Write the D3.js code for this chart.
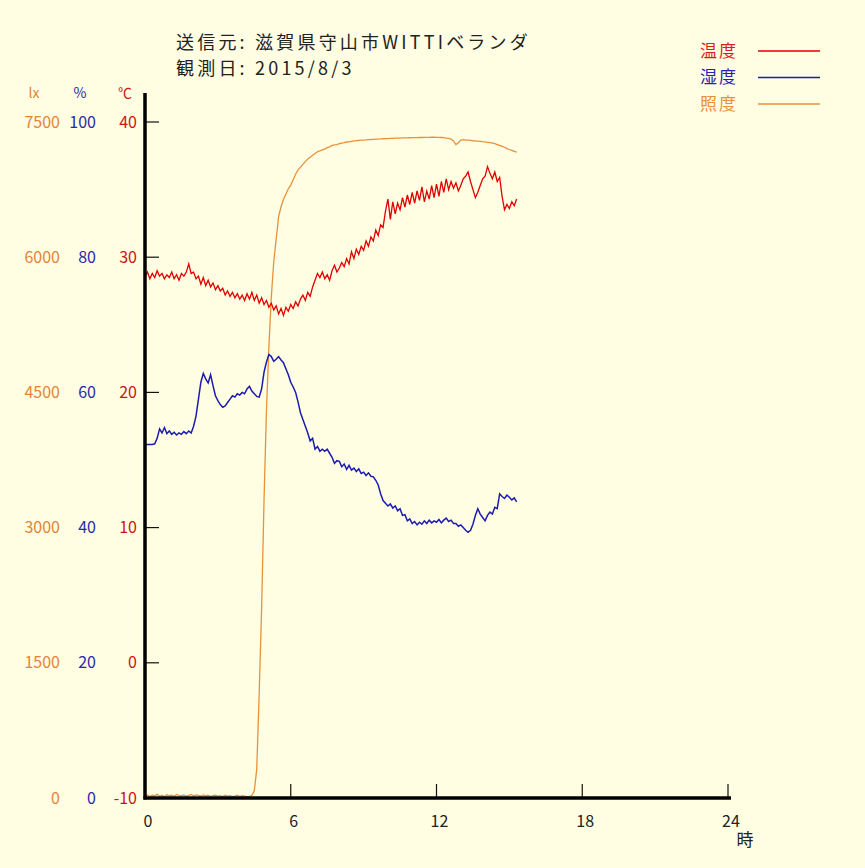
<!DOCTYPE html>
<html>
<head>
<meta charset="utf-8">
<script src="https://cdn.jsdelivr.net/npm/d3@7"></script>
<style>
  html, body { margin: 0; padding: 0; background: #fffde2; }
  svg { display: block; }
  text { font-family: "Noto Sans CJK JP", "DejaVu Sans", sans-serif; }
</style>
</head>
<body>
<svg id="chart" width="865" height="868"></svg>
<script>
// samples every 0.1 h starting at 0:00
const STEP_H = 0.1;

const TEMP = [
  28.6, 28.9, 28.4, 28.8, 28.5, 29.0, 28.6, 28.8, 28.4, 28.7,
  28.5, 28.9, 28.4, 28.7, 28.3, 28.8, 28.6, 28.9, 29.5, 28.8,
  28.9, 28.4, 28.6, 28.0, 28.5, 27.9, 28.3, 27.8, 28.1, 27.6,
  27.9, 27.5, 27.7, 27.2, 27.5, 27.1, 27.4, 27.0, 27.3, 26.9,
  27.2, 26.8, 27.3, 26.9, 27.4, 26.8, 27.2, 26.6, 27.0, 26.5,
  26.8, 26.3, 26.6, 26.1, 26.4, 25.8, 26.2, 25.7, 26.3, 26.0,
  26.5, 26.2, 26.7, 26.4, 26.9, 27.2, 26.8, 27.4, 27.1, 27.8,
  28.3, 28.8, 28.5, 28.9, 28.4, 28.7, 28.3, 29.0, 29.4, 28.9,
  29.2, 29.6, 29.3, 29.9, 29.5, 30.4, 29.9, 30.6, 30.2, 30.8,
  30.5, 31.2, 30.8, 31.5, 31.2, 32.0, 31.6, 32.4, 32.2, 33.4,
  34.3, 32.8, 34.1, 33.2, 34.0, 33.5, 34.4, 33.7, 34.6, 33.9,
  34.8, 34.0, 34.9, 34.2, 35.2, 34.1, 34.9, 34.3, 35.3, 34.4,
  35.4, 34.5, 35.6, 34.8, 35.8, 35.0, 35.6, 35.1, 35.5, 34.9,
  35.3, 35.8, 36.0, 36.3, 35.6, 35.0, 34.4, 34.8, 35.3, 35.8,
  36.0, 36.7, 36.2, 35.8, 36.3, 35.6, 35.9, 34.5, 33.5, 33.9,
  33.6, 34.1, 33.8, 34.3
];

const HUMID = [
  52.3, 52.3, 52.3, 52.3, 52.4, 53.2, 54.6, 54.0, 54.8, 53.9,
  54.3, 53.8, 54.1, 53.7, 54.0, 53.8, 54.2, 53.9, 54.3, 54.0,
  55.0, 56.5, 59.0, 61.5, 62.8, 62.0, 61.4, 62.6, 61.0, 59.5,
  58.8, 58.2, 57.8, 58.0, 58.5, 59.0, 59.5, 59.3, 59.8, 59.6,
  60.0, 59.8, 60.5, 60.9, 60.2, 59.8, 59.4, 59.3, 60.5, 63.0,
  64.5, 65.6, 65.3, 64.6, 64.9, 65.3, 64.8, 64.4, 63.5, 62.6,
  61.5, 60.8, 60.0, 58.6, 57.0, 56.0, 55.0, 54.0, 52.8, 53.2,
  51.6, 52.0, 51.3, 51.6, 51.3, 51.6, 51.0, 50.4, 49.5, 49.9,
  49.8, 49.0, 49.4, 48.6, 49.2, 48.5, 48.8, 48.3, 48.7, 48.0,
  48.2, 47.7, 48.1, 47.6, 47.5, 47.0, 46.3, 45.0, 44.0, 43.6,
  43.2, 43.5, 42.9, 43.2, 42.5, 42.8, 41.8, 41.9, 41.0, 41.3,
  40.6, 40.9, 40.4, 40.8, 40.5, 41.0, 40.6, 41.1, 40.7, 41.0,
  40.8, 41.2, 40.7, 41.1, 41.4, 40.9, 41.1, 40.6, 40.6, 40.2,
  40.4, 40.0, 39.6, 39.3, 39.6, 40.5, 41.8, 42.8, 42.0, 41.5,
  41.0, 41.8, 42.3, 42.0, 43.0, 42.8, 45.0, 44.6, 44.3, 44.8,
  44.5, 44.1, 44.4, 43.8
];

const LUX = [
  20, 35, 15, 30, 25, 40, 20, 30, 15, 35,
  25, 30, 20, 40, 30, 25, 35, 20, 30, 40,
  25, 35, 30, 20, 35, 25, 30, 15, 25, 30,
  20, 25, 15, 30, 20, 25, 15, 20, 30, 15,
  25, 20, 15, 15, 30, 80, 320, 1150, 2100, 3300,
  4300, 5000, 5560, 5950, 6200, 6450, 6560, 6640, 6700, 6760,
  6800, 6860, 6920, 6970, 7000, 7030, 7060, 7090, 7110, 7130,
  7150, 7170, 7180, 7190, 7200, 7215, 7225, 7240, 7245, 7250,
  7260, 7265, 7270, 7278, 7280, 7285, 7290, 7292, 7295, 7298,
  7300, 7302, 7305, 7306, 7308, 7310, 7311, 7312, 7314, 7315,
  7316, 7318, 7318, 7320, 7320, 7322, 7323, 7324, 7324, 7325,
  7326, 7327, 7327, 7328, 7328, 7330, 7330, 7330, 7331, 7331,
  7330, 7330, 7328, 7326, 7322, 7318, 7310, 7290, 7250, 7270,
  7300, 7305, 7300, 7298, 7295, 7292, 7290, 7288, 7285, 7282,
  7280, 7275, 7270, 7265, 7260, 7250, 7240, 7230, 7220, 7205,
  7195, 7185, 7175, 7165
];

const LUX_TICKS  = [0, 1500, 3000, 4500, 6000, 7500];
const HUMID_TICKS = [0, 20, 40, 60, 80, 100];
const TEMP_TICKS = [-10, 0, 10, 20, 30, 40];
const HOUR_TICKS = [0, 6, 12, 18, 24];

const TITLE_LINES = ["送信元: 滋賀県守山市WITTIベランダ", "観測日: 2015/8/3"];
const LEGEND = [
  { name: "温度", color: "#d81e1e", line: "#e00000" },
  { name: "湿度", color: "#2424b4", line: "#1c1cb0" },
  { name: "照度", color: "#e8913c", line: "#e8913c" }
];

const C_LUX = "#e48436", C_HUM = "#2a2aa6", C_TMP = "#cc1414";

const svg = d3.select("#chart");
svg.append("rect").attr("width", 865).attr("height", 868).attr("fill", "#fffde2");

const x = d3.scaleLinear().domain([0, 24]).range([145, 728]);
const yT = d3.scaleLinear().domain([-10, 40]).range([798, 122]);
const yH = d3.scaleLinear().domain([0, 100]).range([798, 122]);
const yL = d3.scaleLinear().domain([0, 7500]).range([798, 122]);

// title — MS Gothic in the original is wider, so spread the letters a bit
svg.selectAll("text.title").data(TITLE_LINES).enter().append("text")
  .attr("class", "title")
  .attr("x", 176).attr("y", (d, i) => 49 + i * 26)
  .attr("font-size", 18).attr("letter-spacing", 3.2).attr("fill", "#222")
  .text(d => d);

// unit headers
[["lx", 34, C_LUX], ["%", 80, C_HUM], ["℃", 125, C_TMP]].forEach(([t, px, c]) => {
  svg.append("text").attr("x", px).attr("y", 98).attr("text-anchor", "middle")
    .attr("font-size", 14).attr("fill", c).text(t);
});

// y labels, three columns
const ylab = (vals, scale, px, color) => {
  svg.append("g").selectAll("text").data(vals).enter().append("text")
    .attr("x", px).attr("y", d => scale(d))
    .attr("dy", "0.35em").attr("text-anchor", "end")
    .attr("font-size", 16).attr("fill", color)
    .text(d => d);
};
ylab(LUX_TICKS, yL, 60, C_LUX);
ylab(HUMID_TICKS, yH, 96, C_HUM);
ylab(TEMP_TICKS, yT, 137, C_TMP);

// x labels
svg.append("g").selectAll("text").data(HOUR_TICKS).enter().append("text")
  .attr("x", d => x(d) + 3).attr("y", 827).attr("text-anchor", "middle")
  .attr("font-size", 16).attr("fill", "#222").text(d => d);
svg.append("text").attr("x", 745).attr("y", 846).attr("text-anchor", "middle")
  .attr("font-size", 17).attr("fill", "#222").text("時");

// tick marks
svg.append("g").selectAll("line").data(TEMP_TICKS.filter(d => d > -10)).enter().append("line")
  .attr("x1", x(0)).attr("x2", x(0) + 14)
  .attr("y1", d => yT(d)).attr("y2", d => yT(d))
  .attr("stroke", "#111").attr("stroke-width", 1.2);
svg.append("g").selectAll("line").data(HOUR_TICKS.filter(d => d > 0)).enter().append("line")
  .attr("x1", d => x(d)).attr("x2", d => x(d))
  .attr("y1", yT(-10) - 14).attr("y2", yT(-10))
  .attr("stroke", "#111").attr("stroke-width", 1.2);

// series
const line = scale => d3.line().x((d, i) => x(i * STEP_H)).y(d => scale(d));
svg.append("path").datum(LUX).attr("d", line(yL))
  .attr("fill", "none").attr("stroke", LEGEND[2].line).attr("stroke-width", 1.3);
svg.append("path").datum(HUMID).attr("d", line(yH))
  .attr("fill", "none").attr("stroke", LEGEND[1].line).attr("stroke-width", 1.5);
svg.append("path").datum(TEMP).attr("d", line(yT))
  .attr("fill", "none").attr("stroke", LEGEND[0].line).attr("stroke-width", 1.3);

// axes
svg.append("line").attr("x1", x(0)).attr("x2", x(0)).attr("y1", 93).attr("y2", yT(-10) + 1.5)
  .attr("stroke", "#000").attr("stroke-width", 3.5);
svg.append("line").attr("x1", x(0) - 1.5).attr("x2", x(24) + 3).attr("y1", yT(-10)).attr("y2", yT(-10))
  .attr("stroke", "#000").attr("stroke-width", 3.5);

// legend
const lg = svg.append("g").selectAll("g").data(LEGEND).enter().append("g")
  .attr("transform", (d, i) => `translate(0, ${51 + i * 26.5})`);
lg.append("text").attr("x", 700).attr("dy", "0.35em").attr("font-size", 17)
  .attr("letter-spacing", 2).attr("fill", d => d.color).text(d => d.name);
lg.append("line").attr("x1", 758).attr("x2", 820)
  .attr("stroke", d => d.line).attr("stroke-width", 1.3);
</script>
</body>
</html>
